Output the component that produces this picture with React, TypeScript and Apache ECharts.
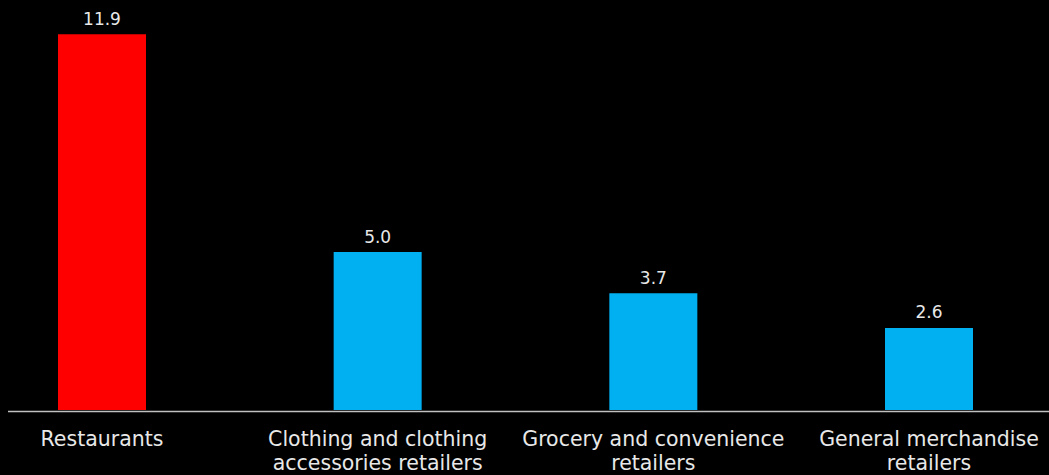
import React, { useEffect, useRef } from "react";
import * as echarts from "echarts";

const categories = [
  "Restaurants",
  "Clothing and clothing\naccessories retailers",
  "Grocery and convenience\nretailers",
  "General merchandise\nretailers",
];
const values = [11.9, 5.0, 3.7, 2.6];
const barColors = ["#FF0000", "#00B0F0", "#00B0F0", "#00B0F0"];

export default function App() {
  const ref = useRef<HTMLDivElement>(null);
  useEffect(() => {
    document.body.style.margin = "0";
    document.body.style.background = "#000";
    const chart = echarts.init(ref.current!, null, { renderer: "svg" });
    chart.setOption({
      animation: false,
      backgroundColor: "#000000",
      grid: { left: 102, right: 120, top: 31, bottom: 64, containLabel: false },
      xAxis: {
        type: "category",
        data: categories,
        boundaryGap: false,
        axisLine: { show: false },
        axisTick: { show: false },
        axisLabel: {
          color: "#e8e8e8",
          fontFamily: "DejaVu Sans",
          fontSize: 20.5,
          lineHeight: 24,
          margin: 17,
          interval: 0,
          showMinLabel: true,
          showMaxLabel: true,
        },
      },
      yAxis: {
        type: "value",
        min: 0,
        max: 12,
        show: false,
        splitLine: { show: false },
      },
      graphic: [
        {
          type: "line",
          shape: { x1: 8, y1: 411.5, x2: 1049, y2: 411.5 },
          style: { stroke: "#bfbfbf", lineWidth: 1.5 },
        },
      ],
      series: [
        {
          type: "bar",
          barWidth: 88,
          data: values.map((v, i) => ({ value: v, itemStyle: { color: barColors[i] } })),
          label: {
            show: true,
            position: "top",
            distance: 7,
            color: "#e8e8e8",
            fontFamily: "DejaVu Sans",
            fontSize: 17,
            formatter: (p: any) => Number(p.value).toFixed(1),
          },
        },
      ],
    });
    return () => chart.dispose();
  }, []);
  return (
    <div
      ref={ref}
      style={{ position: "fixed", left: 0, top: 0, width: 1049, height: 475, background: "#000" }}
    />
  );
}
